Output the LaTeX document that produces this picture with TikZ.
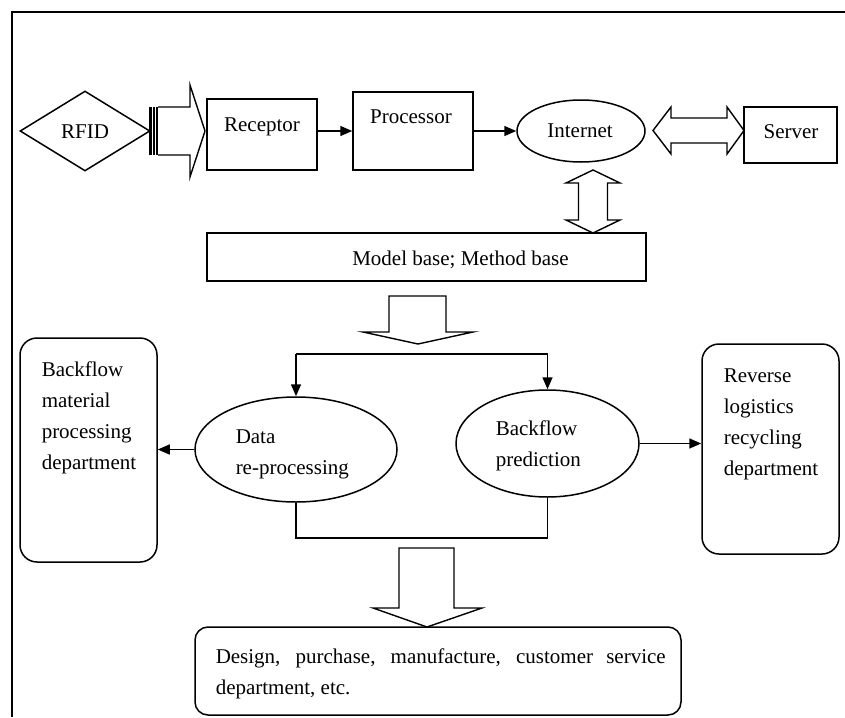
\documentclass[tikz,border=0pt]{standalone}
\usepackage{fontspec}
\setmainfont{Liberation Serif}
\usetikzlibrary{shapes.geometric,arrows.meta}
\begin{document}
\begin{tikzpicture}[x=1pt,y=-1pt,line width=1.5pt,
  shp/.style={draw,inner sep=0pt},
  rbox/.style={shp,rectangle},
  rrbox/.style={shp,rectangle,rounded corners=17pt},
  ell/.style={shp,ellipse},
  txt/.style={inner sep=0pt,font=\fontsize{21}{31}\selectfont},
  mtxt/.style={txt,anchor=base west,align=left},
  arr/.style={-{Triangle[length=12pt,width=10pt]}},
  fat/.style={draw,fill=white,line width=1.4pt,line join=miter}]
\useasboundingbox (0,0) rectangle (845,717);
\draw[line width=2pt] (12,717) -- (12,12) -- (845,12);

% shapes
\node[shp,diamond,minimum width=130pt,minimum height=80pt] (rfid) at (85,131) {};
\node[rbox,minimum width=110pt,minimum height=71pt] (receptor) at (262,134.5) {};
\node[rbox,minimum width=120pt,minimum height=78pt] (processor) at (413,131) {};
\node[ell,minimum width=128pt,minimum height=62pt] (internet) at (581,131) {};
\node[rbox,minimum width=93pt,minimum height=56pt] (server) at (790.5,135) {};
\node[rbox,minimum width=439pt,minimum height=48pt] (model) at (426.5,257) {};
\node[rrbox,minimum width=137pt,minimum height=224pt] (back) at (88.5,450) {};
\node[ell,minimum width=202pt,minimum height=105pt] (data) at (296,449.5) {};
\node[ell,minimum width=183pt,minimum height=107pt] (pred) at (547.5,443.5) {};
\node[rrbox,minimum width=137pt,minimum height=210pt] (rev) at (770.5,449) {};
\node[rrbox,rounded corners=13pt,minimum width=486pt,minimum height=88pt] (design) at (438,671) {};

% texts
\node[txt,anchor=base] (rfidt) at (85,138) {RFID};
\node[txt,anchor=base] (receptort) at (262,131.7) {Receptor};
\node[txt,anchor=base] (processort) at (411,123) {Processor};
\node[txt,anchor=base] (internett) at (580,137) {Internet};
\node[txt,anchor=base] (servert) at (791,138) {Server};
\node[txt,anchor=base] (modelt) at (460.5,265) {Model base; Method base};
\node[mtxt,text width=112pt] (backt) at (41,376) {Backflow\\material\\processing\\department};
\node[mtxt,text width=112pt] (revt) at (723,382) {Reverse\\logistics\\recycling\\department};
\node[mtxt,text width=120pt] (datat) at (235,443) {Data\\re-processing};
\node[mtxt,text width=110pt] (predt) at (495,435) {Backflow\\prediction};
\node[txt,anchor=base west,text width=450pt,align=justify] (designt) at (215,663)
  {Design, purchase, manufacture, customer service\linebreak department, etc.};

% coordinates for bracket lines
\coordinate (topline) at (420,354);
\coordinate (botline) at (420,538);

% thin connectors
\draw[arr] (receptor.east |- processor.west) -- (processor.west);
\draw[arr] (processor.east) -- (internet.west);
\draw[arr] (data.west) -- (back.east |- data.west);
\draw[arr] (pred.east) -- (rev.west |- pred.east);
\draw (data.north |- topline) -- (pred.north |- topline);
\draw[arr] (data.north |- topline) -- (data.north);
\draw[arr] (pred.north |- topline) -- (pred.north);
\draw (data.south) -- (data.south |- botline) -- (pred.south |- botline) -- (pred.south);

% block arrows
\draw[fat] (158,107) -- (190,107) -- (190,85) -- (205,131) -- (190,177) -- (190,155) -- (158,155);
\draw[line width=2.5pt] (150.5,107) -- (150.5,155);
\draw[line width=1.5pt] (154,107) -- (154,155);
\draw[line width=2pt] (157,107) -- (157,155);
\draw[fat] (653,130.5) -- (671,107) -- (671,118) -- (727,118) -- (727,107) -- (744,130.5)
  -- (727,154) -- (727,143) -- (671,143) -- (671,154) -- cycle;
\draw[fat] (593,170) -- (620,183) -- (607.5,183) -- (607.5,220) -- (620,220) -- (593,233)
  -- (566,220) -- (578.5,220) -- (578.5,183) -- (566,183) -- cycle;
\draw[fat] (389,296) -- (446,296) -- (446,332) -- (473,332) -- (418,344) -- (363,332) -- (389,332) -- cycle;
\draw[fat] (399,548) -- (454,548) -- (454,608) -- (482,608) -- (427,627) -- (373,608) -- (399,608) -- cycle;
\end{tikzpicture}
\end{document}
